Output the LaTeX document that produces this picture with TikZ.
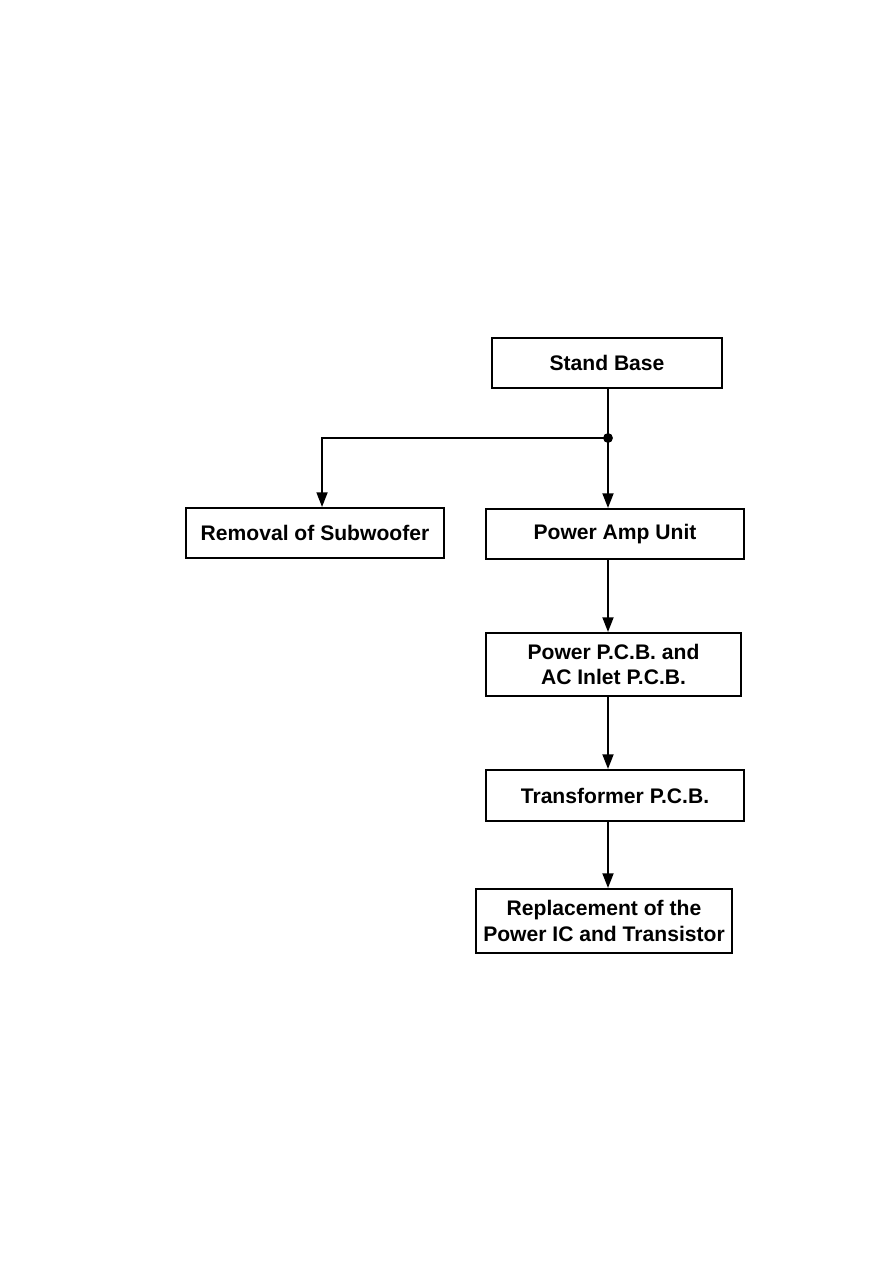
\documentclass[tikz,border=0pt]{standalone}
\usepackage{fontspec}
\setmainfont{Liberation Sans}
\usepackage{tikz}
\usetikzlibrary{arrows.meta, positioning}

\tikzset{
  kasten/.style={draw, line width=1.4pt, inner sep=0pt, align=center,
    font=\bfseries\fontsize{15}{18.4}\selectfont},
  pfeil/.style={line width=1.4pt, -{Triangle[length=10.5pt, width=7.8pt]}},
  linie/.style={line width=1.4pt}
}

\begin{document}
\begin{tikzpicture}[x=0.025cm, y=-0.025cm]
      % --- Seitenformat ---
      \useasboundingbox (0,0) rectangle (893,1263);

      % --- Kästen ---
      \node[kasten, minimum width=5.75cm, minimum height=1.25cm] (stand) at (607,363) {Stand Base};
      \node[kasten, minimum width=6.45cm, minimum height=1.25cm] (sub) at (315,533) {Removal of Subwoofer};
      \node[kasten, minimum width=6.45cm, minimum height=1.25cm] (amp) at (615,534) {Power Amp Unit};
      \node[kasten, minimum width=6.375cm, minimum height=1.575cm] (pcb) at (613.5,664.5) {Power P.C.B. and\\AC Inlet P.C.B.};
      \node[kasten, minimum width=6.45cm, minimum height=1.275cm] (trafo) at (615,795.5) {Transformer P.C.B.};
      \node[kasten, minimum width=6.4cm, minimum height=1.6cm] (ersatz) at (604,921) {Replacement of the\\Power IC and Transistor};

      % --- Verzweigung ---
      \coordinate (knoten) at (608,438);
      \draw[linie] (stand.south -| knoten) -- (knoten);
      \fill (knoten) circle (3.5pt);
      \draw[pfeil] (knoten) -- (knoten |- amp.north);
      \draw[pfeil] (knoten) -| ([xshift=5pt]sub.north);

      % --- Hauptstrang ---
      \draw[pfeil] (amp.south -| knoten) -- (pcb.north -| knoten);
      \draw[pfeil] (pcb.south -| knoten) -- (trafo.north -| knoten);
      \draw[pfeil] (trafo.south -| knoten) -- (ersatz.north -| knoten);
    \end{tikzpicture}
\end{document}
